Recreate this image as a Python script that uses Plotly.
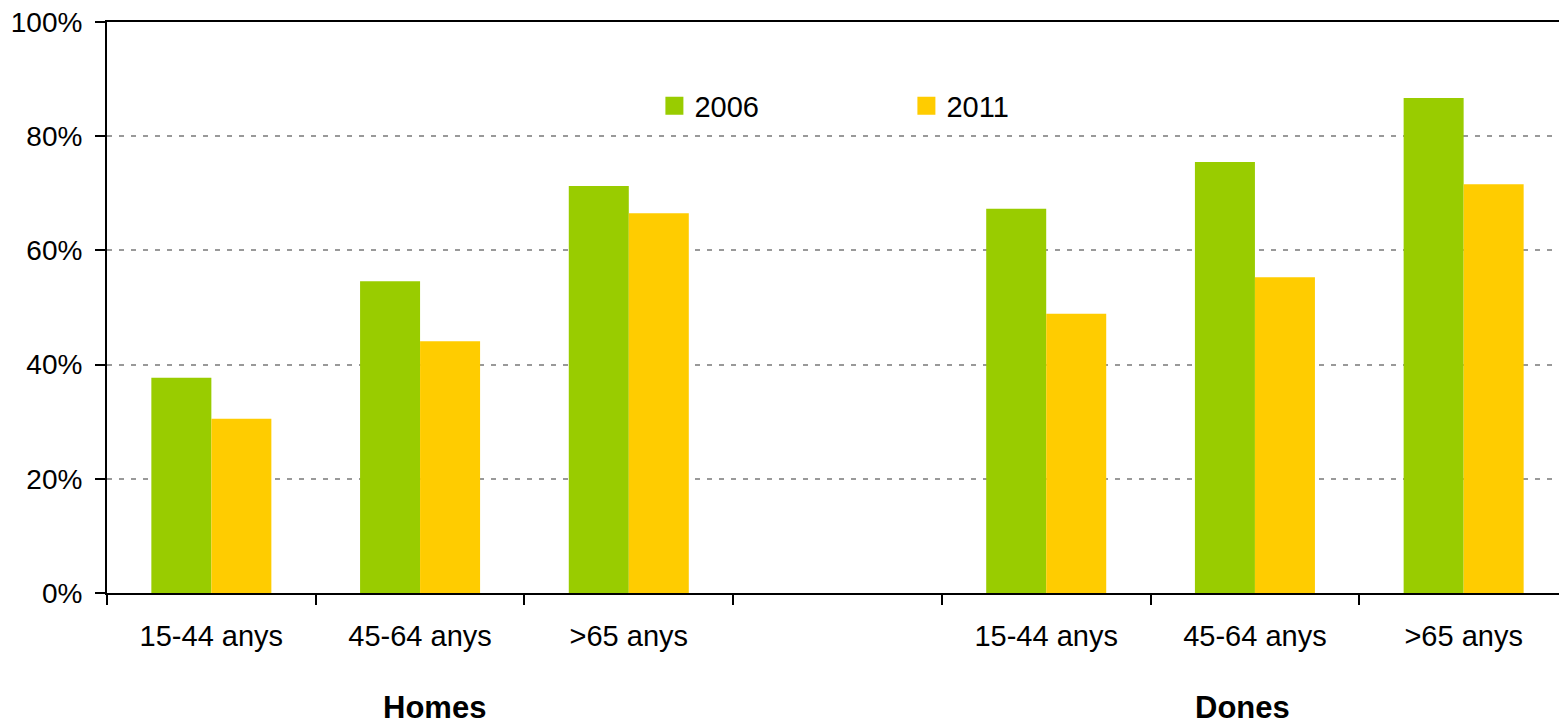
import plotly.graph_objects as go

# Age bands shown under each sex group
age_bands = ["15-44 anys", "45-64 anys", ">65 anys"]
groups = ["Homes", "Dones"]

# Percentages per sex and age band
homes_2006 = [37.7, 54.6, 71.3]
homes_2011 = [30.5, 44.1, 66.5]
dones_2006 = [67.3, 75.5, 86.7]
dones_2011 = [48.9, 55.3, 71.6]

y_ticks = [0, 20, 40, 60, 80, 100]
y_tick_labels = [f"{v}%" for v in y_ticks]

GREEN = "#99CC00"
YELLOW = "#FFCC00"
FONT = "Liberation Sans, Arial, sans-serif"
FS = 29

# Slot positions: three bands for Homes, an empty slot, three bands for Dones
n = len(age_bands)
pos_homes = list(range(n))
pos_dones = [n + 1 + i for i in range(n)]
positions = pos_homes + pos_dones
labels = age_bands + age_bands
v2006 = homes_2006 + dones_2006
v2011 = homes_2011 + dones_2011

fig = go.Figure()
fig.add_trace(go.Bar(x=positions, y=v2006, name="2006", marker_color=GREEN,
                     marker_line_width=0, showlegend=False))
fig.add_trace(go.Bar(x=positions, y=v2011, name="2011", marker_color=YELLOW,
                     marker_line_width=0, showlegend=False))

# Legend entries with larger square swatches
for name, col in [("2006", GREEN), ("2011", YELLOW)]:
    fig.add_trace(go.Scatter(x=[None], y=[None], mode="markers", name=name,
                             marker=dict(symbol="square", size=16, color=col,
                                         line=dict(color=col, width=2))))

n_slots = len(positions) + 1
boundaries = [i - 0.5 for i in range(n_slots)]

fig.update_layout(
    width=1559, height=724,
    margin=dict(l=107, r=0, t=22, b=131),
    paper_bgcolor="white", plot_bgcolor="white",
    barmode="group", bargap=0.425, bargroupgap=0,
    font=dict(family=FONT, size=FS, color="black"),
    showlegend=True,
    legend=dict(orientation="h", x=0.377, y=0.853, xanchor="left", yanchor="middle",
                entrywidth=207, entrywidthmode="pixels",
                font=dict(family=FONT, size=FS), bgcolor="rgba(0,0,0,0)"),
)

fig.update_xaxes(
    range=[-0.5, n_slots - 0.5 - 9 / 208.7],
    tickmode="array", tickvals=positions, ticktext=labels,
    ticks="", showgrid=False, zeroline=False,
    showline=True, linecolor="black", linewidth=2, mirror=True,
    tickfont=dict(family=FONT, size=FS),
    ticklabelstandoff=16,
    minor=dict(tickmode="array", tickvals=boundaries, ticks="outside",
               ticklen=10, tickwidth=2, tickcolor="black", showgrid=False),
)

fig.update_yaxes(
    range=[0, 100], tickmode="array", tickvals=y_ticks, ticktext=y_tick_labels,
    ticks="outside", ticklen=10, tickwidth=2, tickcolor="black",
    showline=True, linecolor="black", linewidth=2,
    showgrid=True, gridcolor="#999999", gridwidth=2, griddash="5px,7px",
    zeroline=False,
    tickfont=dict(family=FONT, size=28),
    ticklabelstandoff=7,
)

# Sex group labels centred under each block of age bands
group_centres = [sum(pos_homes) / n + 0.07, sum(pos_dones) / n - 0.06]
for g, xc in zip(groups, group_centres):
    fig.add_annotation(x=xc, y=0, xref="x", yref="paper", text=f"<b>{g}</b>",
                       showarrow=False, yanchor="middle", yshift=-114,
                       font=dict(family=FONT, size=31, color="black"))

fig.write_html("out.html")
